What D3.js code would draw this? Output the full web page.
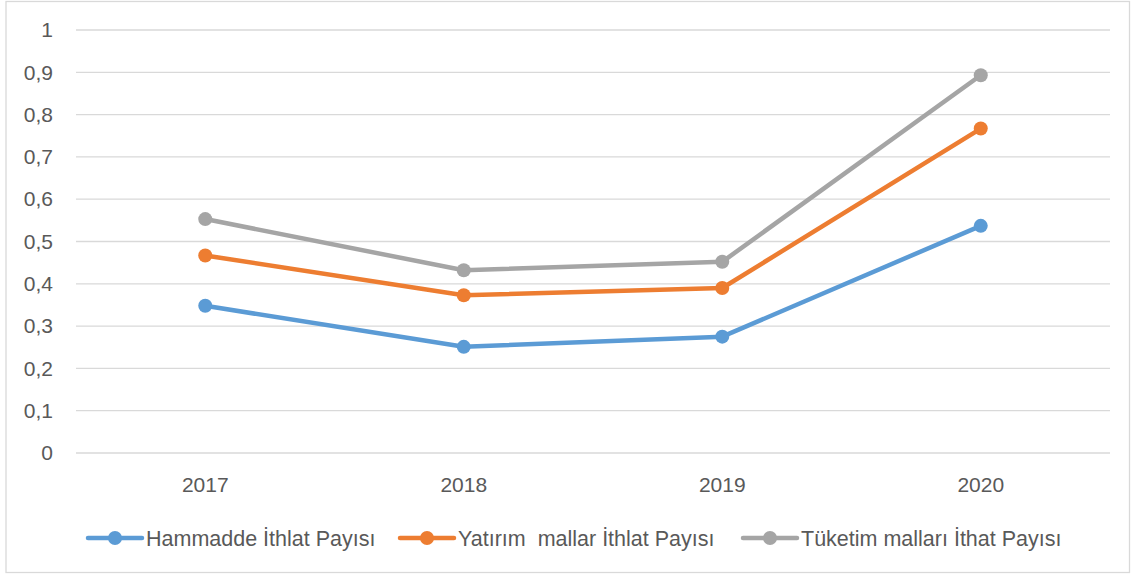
<!DOCTYPE html>
<html>
<head>
<meta charset="utf-8">
<script src="https://cdn.jsdelivr.net/npm/d3@7"></script>
<style>
  body { margin: 0; background: #fff; }
  svg text { font-family: "Liberation Sans", "DejaVu Sans", sans-serif; fill: #595959; white-space: pre; }
</style>
</head>
<body>
<div class="canvas"></div>
<script>
// data
const years = ['2017', '2018', '2019', '2020'];
const hammadde = [0.348, 0.251, 0.275, 0.537];
const yatirim = [0.467, 0.373, 0.390, 0.767];
const tuketim = [0.553, 0.432, 0.452, 0.893];
const seriesNames = ['Hammadde İthlat Payısı', 'Yatırım  mallar İthlat Payısı', 'Tüketim malları İthat Payısı'];
const yTicks = [0, 0.1, 0.2, 0.3, 0.4, 0.5, 0.6, 0.7, 0.8, 0.9, 1];

const colors = ['#5B9BD5', '#ED7D31', '#A5A5A5'];
const series = [hammadde, yatirim, tuketim];

const width = 1132, height = 576;
const svg = d3.select('.canvas')
    .append('svg')
        .attr('width', width)
        .attr('height', height);

// chart border
svg.append('rect')
    .attr('x', 6).attr('y', 1.5)
    .attr('width', 1123.5).attr('height', 571)
    .attr('fill', 'none')
    .attr('stroke', '#d9d9d9')
    .attr('stroke-width', 1.3);

const margin = { top: 30, left: 76, right: 22, bottom: 123 };
const graphWidth = width - margin.left - margin.right;
const graphHeight = height - margin.top - margin.bottom;

const graph = svg.append('g')
    .attr('transform', `translate(${margin.left}, ${margin.top})`);

const x = d3.scaleBand()
    .domain(years)
    .range([0, graphWidth]);

const y = d3.scaleLinear()
    .domain([0, 1])
    .range([graphHeight, 0]);

// gridlines
graph.append('g')
    .selectAll('line')
    .data(yTicks)
    .enter().append('line')
        .attr('x1', 0).attr('x2', graphWidth)
        .attr('y1', d => y(d)).attr('y2', d => y(d))
        .attr('stroke', '#d9d9d9')
        .attr('stroke-width', 1.3);

// y axis labels
const yAxis = d3.axisLeft(y)
    .tickValues(yTicks)
    .tickSize(0)
    .tickPadding(23)
    .tickFormat(d => String(d).replace('.', ','));
const yAxisGroup = graph.append('g').call(yAxis);
yAxisGroup.select('.domain').remove();
yAxisGroup.selectAll('text').attr('font-size', 21).attr('fill', '#595959');

// x axis labels
const xAxis = d3.axisBottom(x).tickSize(0).tickPadding(24);
const xAxisGroup = graph.append('g')
    .attr('transform', `translate(0, ${graphHeight})`)
    .call(xAxis);
xAxisGroup.select('.domain').remove();
xAxisGroup.selectAll('text').attr('font-size', 21).attr('fill', '#595959');

// lines + markers
const line = d3.line()
    .x((d, i) => x(years[i]) + x.bandwidth() / 2)
    .y(d => y(d));

series.forEach((s, k) => {
    graph.append('path')
        .datum(s)
        .attr('d', line)
        .attr('fill', 'none')
        .attr('stroke', colors[k])
        .attr('stroke-width', 4.5)
        .attr('stroke-linejoin', 'round')
        .attr('stroke-linecap', 'round');

    graph.selectAll(`.dot${k}`)
        .data(s)
        .enter().append('circle')
            .attr('class', `dot${k}`)
            .attr('cx', (d, i) => x(years[i]) + x.bandwidth() / 2)
            .attr('cy', d => y(d))
            .attr('r', 7)
            .attr('fill', colors[k]);
});

// legend
const legendX = [88, 400, 743];
const legend = svg.append('g').attr('transform', 'translate(0, 538)');
seriesNames.forEach((name, k) => {
    const g = legend.append('g').attr('transform', `translate(${legendX[k]}, 0)`);
    g.append('line')
        .attr('x1', 0).attr('x2', 54)
        .attr('stroke', colors[k])
        .attr('stroke-width', 4.5)
        .attr('stroke-linecap', 'round');
    g.append('circle').attr('cx', 27).attr('r', 7).attr('fill', colors[k]);
    g.append('text')
        .attr('x', 58).attr('dy', '0.35em')
        .attr('font-size', 21.5)
        .text(name);
});
</script>
</body>
</html>
